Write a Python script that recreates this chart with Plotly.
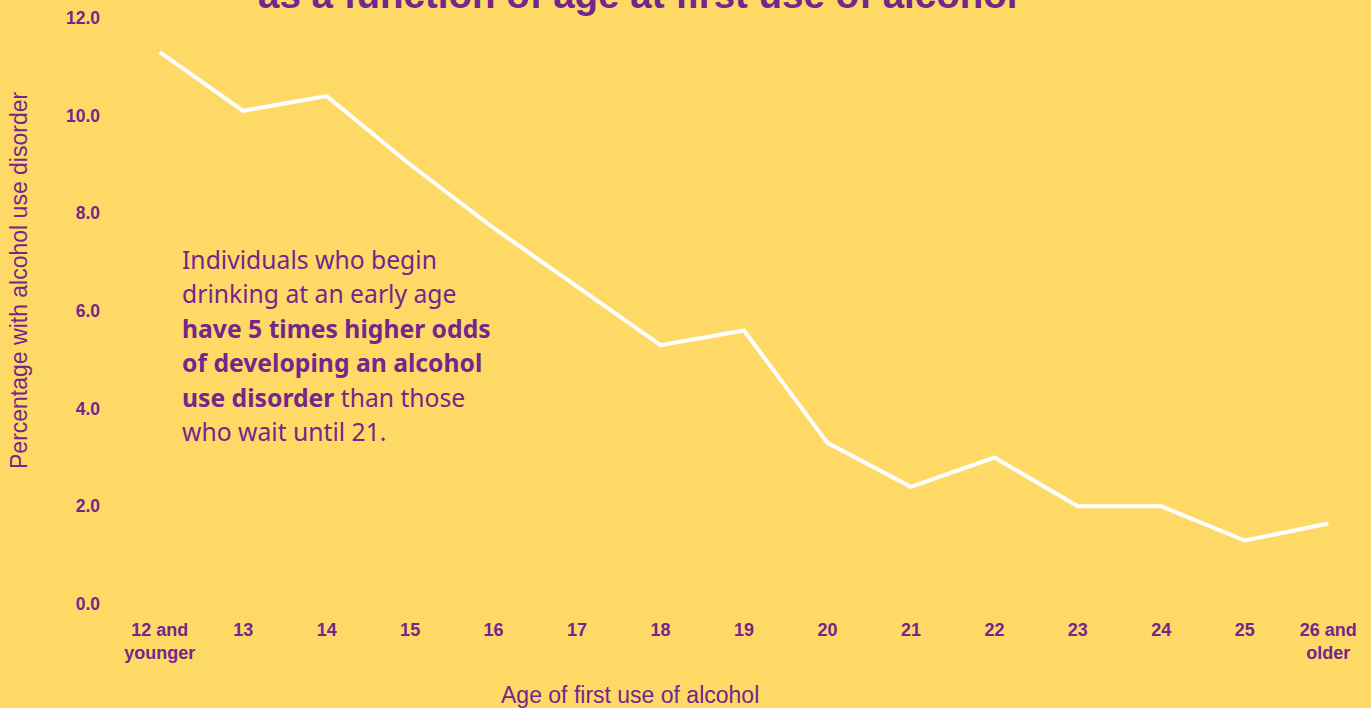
import plotly.graph_objects as go

categories = ["12 and<br>younger", "13", "14", "15", "16", "17", "18", "19", "20",
              "21", "22", "23", "24", "25", "26 and<br>older"]
percent_aud = [11.3, 10.1, 10.4, 9.0, 7.7, 6.5, 5.3, 5.6, 3.3, 2.4, 3.0, 2.0, 2.0, 1.3, 1.65]
y_ticks = [0, 2, 4, 6, 8, 10, 12]
y_tick_labels = ["0.0", "2.0", "4.0", "6.0", "8.0", "10.0", "12.0"]
callout_lines = [
    "Individuals who begin",
    "drinking at an early age",
    "<b>have 5 times higher odds</b>",
    "<b>of developing an alcohol</b>",
    "<b>use disorder</b> than those",
    "who wait until 21.",
]

BG = "#FFD966"
PURPLE = "#73268C"

W, H = 1371, 708
ML, MR, MT, MB = 118, 1, 18, 104
PW, PH = W - ML - MR, H - MT - MB


def px_x(x):
    return (x - ML) / PW


def px_y(y):
    return (H - MB - y) / PH


fig = go.Figure()
fig.add_trace(go.Scatter(
    x=list(range(len(categories))), y=percent_aud, mode="lines",
    line=dict(color="white", width=4), hoverinfo="skip", showlegend=False,
))

fig.update_layout(
    width=W, height=H,
    paper_bgcolor=BG, plot_bgcolor=BG,
    margin=dict(l=ML, r=MR, t=MT, b=MB),
    xaxis=dict(
        tickmode="array", tickvals=list(range(len(categories))), ticktext=categories,
        range=[-0.5, 14.5], showgrid=False, zeroline=False, showline=False, ticks="",
        tickfont=dict(family="Liberation Sans", size=18, color=PURPLE, weight="bold"),
        ticklabelstandoff=13,
    ),
    yaxis=dict(
        tickmode="array", tickvals=y_ticks, ticktext=y_tick_labels,
        range=[0, 12], showgrid=False, zeroline=False, showline=False, ticks="",
        tickfont=dict(family="Liberation Sans", size=17.5, color=PURPLE, weight="bold"),
        ticklabelstandoff=17,
    ),
    showlegend=False,
)

# clipped title at top
fig.add_annotation(
    text="<b>as a function of age at first use of alcohol</b>",
    xref="paper", yref="paper", x=px_x(637), y=1, yanchor="bottom",
    yshift=0, showarrow=False,
    font=dict(family="Liberation Sans", size=38.5, color=PURPLE),
)

# y-axis title
fig.add_annotation(
    text="Percentage with alcohol use disorder",
    xref="paper", yref="paper", x=px_x(19), y=px_y(280),
    textangle=-90, showarrow=False, xanchor="center", yanchor="middle",
    font=dict(family="Liberation Sans", size=23, color=PURPLE),
)

# x-axis title
fig.add_annotation(
    text="Age of first use of alcohol",
    xref="paper", yref="paper", x=px_x(630), y=px_y(695),
    showarrow=False, xanchor="center", yanchor="middle",
    font=dict(family="Liberation Sans", size=23, color=PURPLE),
)

# callout text, one line each
for i, line in enumerate(callout_lines):
    fig.add_annotation(
        text=line, xref="paper", yref="paper",
        x=px_x(180), y=px_y(259 + 34.5 * i),
        xanchor="left", yanchor="middle", align="left", showarrow=False,
        font=dict(family="Noto Sans", size=24.7, color=PURPLE),
    )

fig.write_html("out.html", config={"displayModeBar": False},
               post_script="document.body.style.margin='0';")
